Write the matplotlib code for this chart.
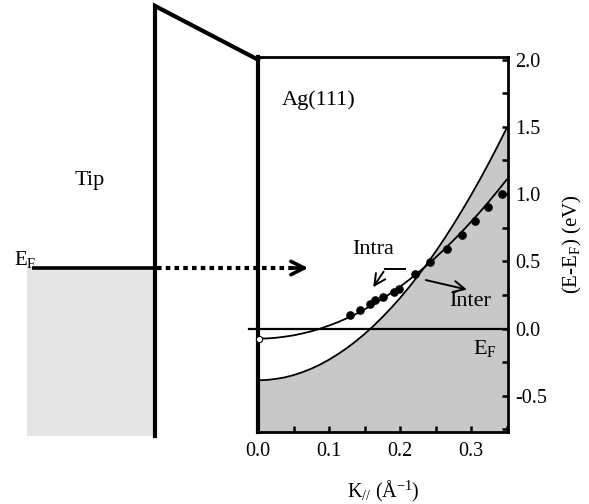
import matplotlib
matplotlib.use("Agg")
import matplotlib.pyplot as plt
import matplotlib.transforms as mtransforms
from matplotlib.ticker import MultipleLocator

plt.rcParams['font.family'] = ['Liberation Serif', 'DejaVu Serif']
plt.rcParams['mathtext.fontset'] = 'custom'
plt.rcParams['mathtext.rm'] = 'Liberation Serif'
plt.rcParams['mathtext.it'] = 'Liberation Serif:italic'

# Band dispersions (k in 1/Å, E-EF in eV)
k_grid = [0.0, 0.0125, 0.025, 0.0375, 0.05, 0.0625, 0.075, 0.0875, 0.1, 0.1125,
          0.125, 0.1375, 0.15, 0.1625, 0.175, 0.1875, 0.2, 0.2125, 0.225, 0.2375,
          0.25, 0.2625, 0.275, 0.2875, 0.3, 0.3125, 0.325, 0.3375, 0.35]
intra_band = [-0.075, -0.074, -0.069, -0.061, -0.051, -0.037, -0.021, -0.001, 0.022, 0.047,
              0.076, 0.107, 0.142, 0.180, 0.221, 0.264, 0.311, 0.361, 0.414, 0.469,
              0.528, 0.590, 0.655, 0.723, 0.794, 0.867, 0.944, 1.024, 1.107]
inter_band = [-0.385, -0.383, -0.375, -0.364, -0.347, -0.325, -0.299, -0.268, -0.232, -0.191,
              -0.146, -0.096, -0.041, 0.019, 0.084, 0.153, 0.227, 0.306, 0.390, 0.478,
              0.571, 0.669, 0.772, 0.880, 0.992, 1.109, 1.231, 1.358, 1.489]

# measured points
k_dots = [0.130, 0.144, 0.157, 0.165, 0.176, 0.191, 0.198, 0.221, 0.242, 0.266, 0.287, 0.306, 0.324, 0.343]
e_dots = [0.097, 0.139, 0.184, 0.209, 0.234, 0.271, 0.296, 0.408, 0.495, 0.595, 0.694, 0.803, 0.905, 1.00]

# tip side of the energy diagram (eV)
tip_ef = 0.45
tip_top = 2.40
tip_bottom = -0.80
barrier_end = 2.0

xmin, xmax = 0.0, 0.352
ymin, ymax = -0.77, 2.02

fig = plt.figure(figsize=(5.89, 5.04), dpi=100)
ax = fig.add_axes([258 / 589, 1 - 432 / 504, 250 / 589, 375 / 504])
ax.set_xlim(xmin, xmax)
ax.set_ylim(ymin, ymax)

ax.fill_between(k_grid, inter_band, ymin - 1, color='#c8c8c8', lw=0)
ax.plot(k_grid, intra_band, color='k', lw=1.3)
ax.plot(k_grid, inter_band, color='k', lw=1.3)
ax.plot(k_dots, e_dots, 'o', color='k', ms=5.2)
ax.plot([0.002], [intra_band[0]], 'o', mfc='white', mec='k', mew=0.8, ms=4.5,
        clip_on=False, zorder=5)
ax.plot([-0.012, xmax], [0, 0], color='k', lw=1.6, clip_on=False)

# spines / ticks
for side in ['top', 'right', 'bottom']:
    ax.spines[side].set_linewidth(2.0)
ax.spines['left'].set_linewidth(3.0)
ax.yaxis.tick_right()
ax.yaxis.set_label_position('right')
ax.xaxis.set_major_locator(MultipleLocator(0.1))
ax.xaxis.set_minor_locator(MultipleLocator(0.05))
ax.yaxis.set_major_locator(MultipleLocator(0.5))
ax.yaxis.set_minor_locator(MultipleLocator(0.25))
ax.tick_params(which='both', direction='in', width=1.8, length=4, labelsize=14.5)
ax.tick_params(axis='x', pad=7)
ax.tick_params(axis='y', pad=5)
ax.set_xticks([0.0, 0.1, 0.2, 0.3])
ax.set_xticklabels(['0.0', '0.1', '0.2', '0.3'])
ax.set_yticks([-0.5, 0.0, 0.5, 1.0, 1.5, 2.0])
ax.set_yticklabels(['-0.5', '0.0', '0.5', '1.0', '1.5', '2.0'])

ax.set_xlabel(r'K$_{//}$ ($\mathrm{\AA}^{-1}$)', fontsize=14.5, labelpad=13)
ax.set_ylabel(r'(E-E$_\mathrm{F}$) (eV)', fontsize=15, labelpad=10)

ax.text(0.034, 1.70, 'Ag(111)', fontsize=16, va='center')
ax.text(0.132, 0.585, 'Intra', fontsize=16, va='center')
ax.text(0.269, 0.20, 'Inter', fontsize=16, va='center')
ax.text(0.303, -0.15, r'E$_\mathrm{F}$', fontsize=16, va='center')

# bent arrow for Intra, straight arrow for Inter
ax.plot([0.207, 0.179], [0.44, 0.44], color='k', lw=1.4)
ax.annotate('', xy=(0.160, 0.29), xytext=(0.179, 0.44),
            arrowprops=dict(arrowstyle='->', lw=1.4, color='k', mutation_scale=20))
ax.annotate('', xy=(0.298, 0.285), xytext=(0.2325, 0.365),
            arrowprops=dict(arrowstyle='->', lw=1.4, color='k', mutation_scale=20))

# overlay for the tip / barrier part: x in figure pixels, y in eV of ax
ov = fig.add_axes([0, 0, 1, 1], zorder=5)
ov.set_xlim(0, 589)
ov.set_ylim(504, 0)
ov.axis('off')
ov.patch.set_alpha(0)
tr = mtransforms.blended_transform_factory(ov.transData, ax.transData)

ov.fill_between([27, 153], [tip_bottom, tip_bottom], [tip_ef, tip_ef],
                color='#e5e5e5', lw=0, transform=tr)
ov.plot([32, 155], [tip_ef, tip_ef], color='k', lw=2.6, transform=tr,
        solid_capstyle='butt')
ov.plot([155, 155, 258], [tip_bottom, tip_top, barrier_end], color='k', lw=3.0,
        transform=tr, solid_joinstyle='miter')
ov.plot([157, 300], [tip_ef, tip_ef], color='k', lw=3.0, transform=tr,
        linestyle=(0, (1.1, 1.0)))
ov.annotate('', xy=(311, tip_ef), xytext=(290, tip_ef), xycoords=tr, textcoords=tr,
            arrowprops=dict(arrowstyle='->', lw=2.6, color='k', mutation_scale=24))

ov.text(90, 1.10, 'Tip', fontsize=16, ha='center', va='center', transform=tr)
ov.text(14, tip_ef + 0.06, r'E$_\mathrm{F}$', fontsize=15, ha='left', va='center',
        transform=tr)

fig.savefig('out.png', dpi=100)
